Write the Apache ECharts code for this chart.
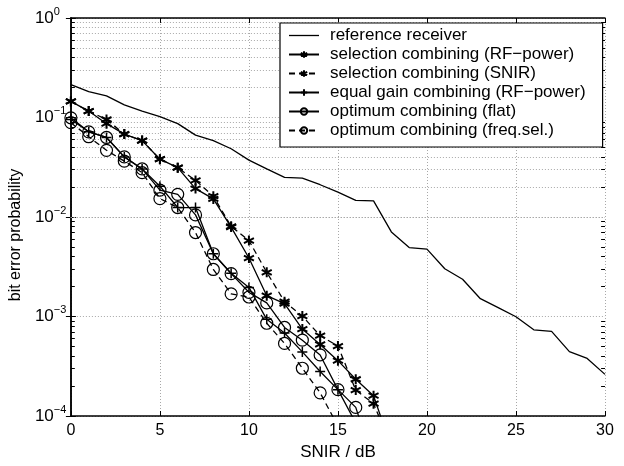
<!DOCTYPE html>
<html style="height: 100%">
<head>
	<meta charset="utf-8">
	<script type="text/javascript" src="https://cdn.jsdelivr.net/npm/echarts@6/dist/echarts.min.js"></script>
	<style>
		#container{
			width: 624px;
			height: 466px;
		}
	</style>
</head>
<body style="margin: 0; background: #fff">
	<div id="container"></div>
	<script type="text/javascript">
		var snir = [0, 1, 2, 3, 4, 5, 6, 7, 8, 9, 10, 11, 12, 13, 14, 15, 16, 17, 18, 19, 20, 21, 22, 23, 24, 25, 26, 27, 28, 29, 30];

		// reference receiver (no markers)
		var refRx = [0.214, 0.182, 0.165, 0.134, 0.116, 0.102, 0.0867, 0.0665, 0.0586, 0.0485, 0.0373,
			0.0304, 0.0250, 0.0246, 0.0211, 0.0178, 0.0147, 0.0145, 0.00708, 0.00493, 0.00475,
			0.00302, 0.00237, 0.00151, 0.00123, 0.000995, 0.000735, 0.000709, 0.000444, 0.000379, 0.000262];
		// selection combining (RF-power)
		var selRf = [0.145, 0.116, 0.0867, 0.0681, 0.0586, 0.0381, 0.0313, 0.0193, 0.0152, 0.00792,
			0.00387, 0.00162, 0.00135, 0.000747, 0.000524, 0.000360, 0.000234, 0.000160, 0.000048];
		// selection combining (SNIR)
		var selSnir = [0.145, 0.116, 0.0955, 0.0681, 0.0586, 0.0381, 0.0313, 0.0233, 0.0162, 0.00805,
			0.00579, 0.00278, 0.00141, 0.00101, 0.000641, 0.000505, 0.000182, 0.000133, 0.00005];
		// equal gain combining (RF-power)
		var egc = [0.0955, 0.0718, 0.063, 0.0402, 0.0304, 0.0204, 0.01245, 0.01245, 0.00427, 0.00272,
			0.00196, 0.000936, 0.000682, 0.000441, 0.000280, 0.000184, 0.000085];
		// optimum combining (flat)
		var optFlat = [0.0993, 0.0718, 0.063, 0.0402, 0.0304, 0.0186, 0.0169, 0.0105, 0.00427, 0.0027,
			0.00175, 0.00137, 0.000776, 0.000578, 0.000411, 0.000184, 0.000122, 0.0000345];
		// optimum combining (freq.sel.)
		var optFs = [0.0887, 0.0641, 0.0468, 0.0364, 0.0279, 0.0153, 0.01245, 0.00698, 0.00297, 0.00169,
			0.00157, 0.000855, 0.000536, 0.000302, 0.000171, 0.000079];

		var names = ['reference receiver', 'selection combining (RF\u2212power)', 'selection combining (SNIR)',
			'equal gain combining (RF\u2212power)', 'optimum combining (flat)', 'optimum combining (freq.sel.)'];

		var xTicks = [0, 5, 10, 15, 20, 25, 30];
		var yDecades = [-4, -3, -2, -1, 0];

		var FONT = "'Liberation Sans', Arial, Helvetica, sans-serif";
		var asterisk = 'path://M0,-5L0,5M-4.33,-2.5L4.33,2.5M-4.33,2.5L4.33,-2.5';
		var plus = 'path://M0,-5L0,5M-5,0L5,0';

		function pairs(ys) {
			var out = [];
			for (var i = 0; i < ys.length; i++) out.push([snir[i], ys[i]]);
			return out;
		}

		// minor log grid lines and the small inside ticks on both sides
		var minorLines = [];
		for (var d = 0; d < yDecades.length - 1; d++) {
			for (var k = 2; k <= 9; k++) {
				var v = k * Math.pow(10, yDecades[d]);
				minorLines.push({ yAxis: v, lineStyle: { color: '#a8a8a8', type: [1, 2], width: 1 } });
				minorLines.push([{ coord: [0, v], lineStyle: { color: '#000', type: 'solid', width: 1 } }, { coord: [0.22, v] }]);
				minorLines.push([{ coord: [29.78, v], lineStyle: { color: '#000', type: 'solid', width: 1 } }, { coord: [30, v] }]);
			}
		}

		function markerSeries(name, ys, symbol, size, dashed) {
			return {
				name: name,
				type: 'line',
				data: pairs(ys),
				symbol: symbol,
				symbolSize: size,
				showAllSymbol: true,
				clip: true,
				lineStyle: { color: '#000', width: 1.3, type: dashed ? [6, 4] : 'solid' },
				itemStyle: {
					color: symbol === 'circle' ? 'rgba(0,0,0,0)' : '#000',
					borderColor: '#000',
					borderWidth: symbol === 'circle' ? 1.2 : (symbol === asterisk ? 2 : 1.5)
				},
				z: 3
			};
		}

		var legendData = names.map(function (n, i) {
			// plain line icon for the reference receiver
			return i === 0 ? { name: n, icon: 'path://M0,0L30,0L30,1.3L0,1.3Z' } : { name: n };
		});

		var myChart = echarts.init(document.getElementById('container'));

		myChart.setOption({
			animation: false,
			backgroundColor: '#fff',
			textStyle: { fontFamily: FONT },
			grid: { left: 65, right: 19, top: 18, bottom: 41 },
			legend: {
				data: legendData,
				orient: 'vertical',
				left: 280,
				top: 23,
				padding: [4, 17, 8, 8],
				itemWidth: 30,
				itemHeight: 8,
				itemGap: 2,
				backgroundColor: '#fff',
				borderColor: '#000',
				borderWidth: 1.2,
				selectedMode: false,
				textStyle: { fontFamily: FONT, fontSize: 17, color: '#000', lineHeight: 16, padding: [0, 0, 0, 6] }
			},
			xAxis: [{
				type: 'value',
				min: 0,
				max: 30,
				interval: 5,
				name: 'SNIR / dB',
				nameLocation: 'middle',
				nameGap: 28,
				nameTextStyle: { fontFamily: FONT, fontSize: 17, color: '#000' },
				axisLine: { lineStyle: { color: '#000', width: 1.5 } },
				axisTick: { inside: true, length: 5, lineStyle: { color: '#000' } },
				axisLabel: { fontFamily: FONT, fontSize: 16, color: '#000', margin: 7 },
				splitLine: { show: true, lineStyle: { color: '#a8a8a8', type: [1, 2] } }
			}, {
				type: 'value',
				position: 'top',
				min: 0,
				max: 30,
				interval: 5,
				axisLine: { lineStyle: { color: '#000', width: 1.5 } },
				axisTick: { inside: true, length: 5, lineStyle: { color: '#000' } },
				axisLabel: { show: false },
				splitLine: { show: false }
			}],
			yAxis: [{
				type: 'log',
				logBase: 10,
				min: 1e-4,
				max: 1,
				name: 'bit error probability',
				nameLocation: 'middle',
				nameGap: 46,
				nameTextStyle: { fontFamily: FONT, fontSize: 16, color: '#000', padding: [0, 36, 0, 0] },
				axisLine: { lineStyle: { color: '#000', width: 1.5 } },
				axisTick: { inside: true, length: 5, lineStyle: { color: '#000' } },
				axisLabel: {
					margin: 36,
					align: 'left',
					color: '#000',
					formatter: function (value) {
						var e = Math.round(Math.log10(value));
						return '{b|10}{s|' + (e < 0 ? '\u2212' + (-e) : e) + '}';
					},
					rich: {
						b: { fontFamily: FONT, fontSize: 17, lineHeight: 24, verticalAlign: 'middle', color: '#000' },
						s: { fontFamily: FONT, fontSize: 11, lineHeight: 11, verticalAlign: 'top', color: '#000' }
					}
				},
				splitLine: { show: true, lineStyle: { color: '#a8a8a8', type: [1, 2] } }
			}, {
				type: 'log',
				logBase: 10,
				min: 1e-4,
				max: 1,
				position: 'right',
				axisLine: { lineStyle: { color: '#000', width: 1.5 } },
				axisTick: { inside: true, length: 5, lineStyle: { color: '#000' } },
				axisLabel: { show: false },
				splitLine: { show: false }
			}],
			series: [
				{
					name: names[0],
					type: 'line',
					data: pairs(refRx),
					symbol: 'none',
					clip: true,
					lineStyle: { color: '#000', width: 1.3 },
					itemStyle: { color: '#000' },
					z: 3,
					markLine: {
						silent: true,
						symbol: 'none',
						z: 1,
						label: { show: false },
						emphasis: { disabled: true },
						data: minorLines
					}
				},
				markerSeries(names[1], selRf, asterisk, 10, false),
				markerSeries(names[2], selSnir, asterisk, 10, true),
				markerSeries(names[3], egc, plus, 10, false),
				markerSeries(names[4], optFlat, 'circle', 12, false),
				markerSeries(names[5], optFs, 'circle', 12, true)
			]
		});
	</script>
</body>
</html>
